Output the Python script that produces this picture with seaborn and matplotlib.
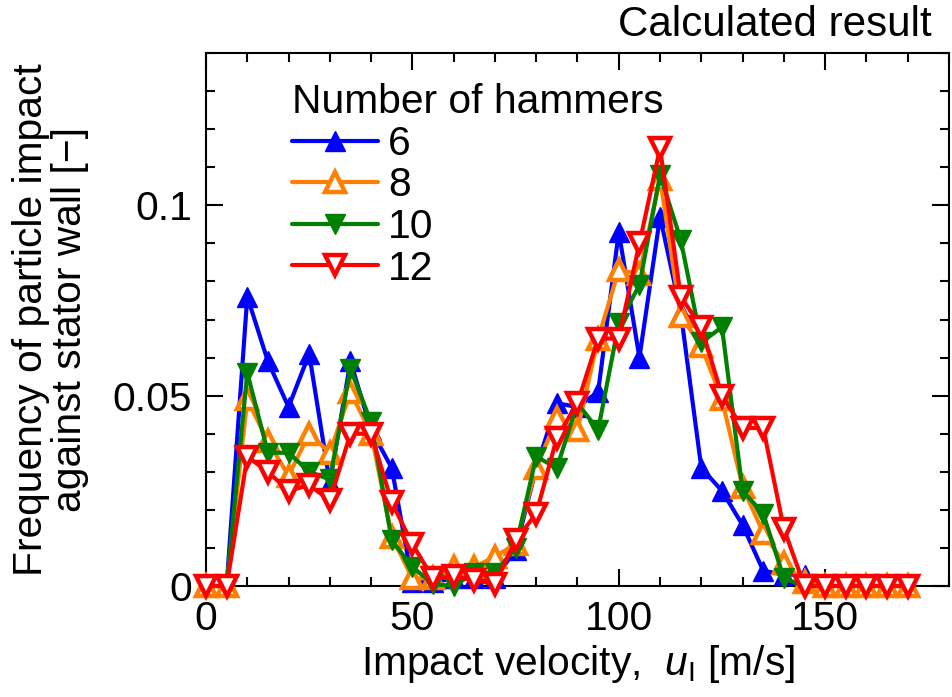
import numpy as np
import pandas as pd
import matplotlib
matplotlib.use("Agg")
import matplotlib.pyplot as plt
import seaborn as sns
from matplotlib.ticker import MultipleLocator, FixedLocator, FixedFormatter

# ---- data ----
velocity = list(range(0, 175, 5))
freq_6 = [0, 0, 0.076, 0.059, 0.047, 0.061, 0.027, 0.059, 0.041, 0.031,
          0.001, 0.001, 0.002, 0.002, 0.002, 0.0095, 0.031, 0.048, 0.047, 0.051,
          0.093, 0.060, 0.097, 0.072, 0.031, 0.025, 0.016, 0.004, 0.003, 0.003,
          0, 0, 0, 0, 0]
freq_8 = [0, 0, 0.049, 0.038, 0.029, 0.040, 0.035, 0.051, 0.040, 0.013,
          0.002, 0.002, 0.005, 0.005, 0.0077, 0.011, 0.031, 0.044, 0.041, 0.065,
          0.083, 0.082, 0.107, 0.071, 0.063, 0.049, 0.026, 0.014, 0.006, 0.001,
          0, 0, 0, 0, 0]
freq_10 = [0, 0, 0.056, 0.035, 0.035, 0.030, 0.028, 0.057, 0.043, 0.012,
           0.005, 0.0005, 0, 0.0035, 0.0035, 0.010, 0.034, 0.031, 0.048, 0.041,
           0.069, 0.079, 0.108, 0.091, 0.064, 0.068, 0.025, 0.019, 0.002, 0,
           0, 0, 0, 0, 0]
freq_12 = [0, 0, 0.034, 0.030, 0.025, 0.0265, 0.0225, 0.040, 0.040, 0.022,
           0.011, 0.002, 0.0025, 0.0015, 0.0005, 0.012, 0.019, 0.039, 0.048, 0.065,
           0.065, 0.090, 0.115, 0.076, 0.068, 0.050, 0.0415, 0.0415, 0.015, 0,
           0, 0, 0, 0, 0]
series_labels = ["6", "8", "10", "12"]
series_values = [freq_6, freq_8, freq_10, freq_12]
colors = ["#0000FF", "#FF8000", "#008000", "#FF0000"]
markers = ["^", "^", "v", "v"]
filled = [True, False, True, False]

x_ticks = [0, 50, 100, 150]
x_ticklabels = ["0", "50", "100", "150"]
y_ticks = [0, 0.05, 0.1]
y_ticklabels = ["0", "0.05", "0.1"]

sns.set_theme(style="white")
plt.rcParams['font.family'] = ['Liberation Sans', 'DejaVu Sans']
plt.rcParams['mathtext.fontset'] = 'custom'
plt.rcParams['mathtext.rm'] = 'Liberation Sans'
plt.rcParams['mathtext.it'] = 'Liberation Sans:italic'
plt.rcParams['text.color'] = 'black'
plt.rcParams['axes.labelcolor'] = 'black'

FS = 29.3

fig = plt.figure(figsize=(9.53, 6.97), dpi=100)
ax = fig.add_axes([206/953, 1 - 586/697, (949 - 206)/953, (586 - 53)/697])

for lab, vals, c, m, f in zip(series_labels, series_values, colors, markers, filled):
    df = pd.DataFrame({"v": velocity, "f": vals})
    sns.lineplot(data=df, x="v", y="f", ax=ax, color=c, lw=3, marker=m,
                 markersize=14.5, markeredgewidth=3.2 if not f else 1.0,
                 markerfacecolor=c if f else "white", markeredgecolor=c,
                 label=lab, clip_on=False, zorder=3)

ax.set_xlim(0, 180)
ax.set_ylim(0, 0.14)
ax.xaxis.set_major_locator(FixedLocator(x_ticks))
ax.xaxis.set_major_formatter(FixedFormatter(x_ticklabels))
ax.xaxis.set_minor_locator(MultipleLocator(10))
ax.yaxis.set_major_locator(FixedLocator(y_ticks))
ax.yaxis.set_major_formatter(FixedFormatter(y_ticklabels))
ax.yaxis.set_minor_locator(MultipleLocator(0.01))

ax.tick_params(which="both", direction="in", top=True, right=True,
               bottom=True, left=True, color="black", width=1.5,
               labelsize=FS, labelcolor="black")
ax.tick_params(which="major", length=12, pad=10)
ax.tick_params(which="minor", length=6.5)
for s in ax.spines.values():
    s.set_color("black")
    s.set_linewidth(1.5)

ax.set_xlabel(r"Impact velocity,  $u_\mathrm{I}$ [m/s]", fontsize=FS, labelpad=4, color="black")
ax.set_ylabel("Frequency of particle impact\nagainst stator wall [\u2212]", fontsize=FS,
              labelpad=17, color="black", linespacing=1.03)

leg = ax.legend(title="Number of hammers", loc="upper left",
                bbox_to_anchor=(0.078, 0.997), frameon=False, fontsize=FS,
                title_fontsize=FS, handlelength=2.1, handletextpad=0.25,
                labelspacing=0.09, borderpad=0.2)
leg._legend_box.align = "left"
leg.get_title().set_color("black")

fig.text(932/953, 1 - 25/697, "Calculated result", ha="right", va="center",
         fontsize=FS + 1, color="black")

fig.savefig("out.png", dpi=100, facecolor="white")
